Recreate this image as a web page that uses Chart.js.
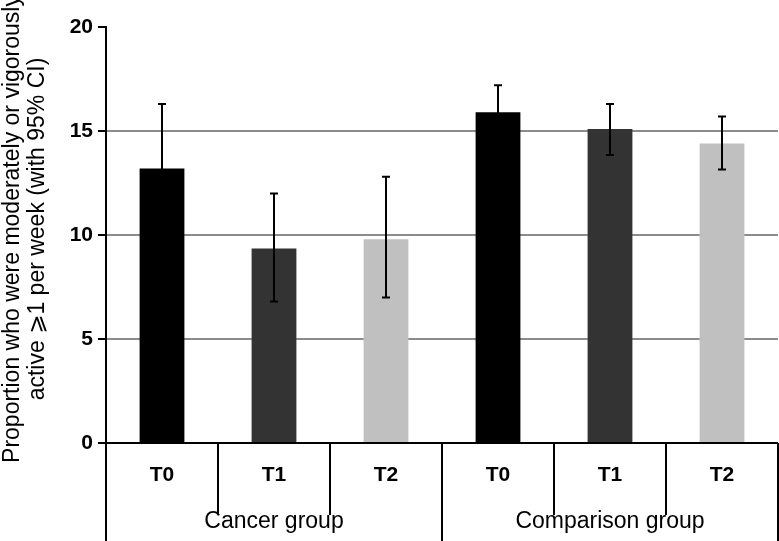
<!DOCTYPE html>
<html>
<head>
<meta charset="utf-8">
<script src="https://cdn.jsdelivr.net/npm/chart.js@4"></script>
<style>
  html, body { margin: 0; padding: 0; background: #fff; }
  #wrap { width: 779px; height: 541px; }
</style>
</head>
<body>
<div id="wrap"><canvas id="chart"></canvas></div>
<script>
const timeLabels = ["T0", "T1", "T2", "T0", "T1", "T2"];
const groupLabels = ["Cancer group", "Comparison group"];
const proportions = [13.2, 9.35, 9.8, 15.9, 15.1, 14.4];
const ciLow = [10.1, 6.8, 7.0, 14.6, 13.85, 13.15];
const ciHigh = [16.3, 12.0, 12.8, 17.2, 16.3, 15.7];
const barColors = ["#000000", "#333333", "#c0c0c0", "#000000", "#333333", "#c0c0c0"];
const yTitle = ["Proportion who were moderately or vigorously", "active \u2A7E1 per week (with 95% CI)"];

const FONT = "'Liberation Sans', Arial, Helvetica, 'DejaVu Sans', sans-serif";

const errorBars = {
  id: "errorBars",
  afterDatasetsDraw(chart) {
    const ctx = chart.ctx;
    const y = chart.scales.y;
    const meta = chart.getDatasetMeta(0);
    ctx.save();
    ctx.strokeStyle = "#000";
    ctx.lineWidth = 2;
    meta.data.forEach((bar, i) => {
      const top = y.getPixelForValue(ciHigh[i]);
      const bot = y.getPixelForValue(ciLow[i]);
      ctx.beginPath();
      ctx.moveTo(bar.x, top);
      ctx.lineTo(bar.x, bot);
      ctx.moveTo(bar.x - 4, top);
      ctx.lineTo(bar.x + 4, top);
      ctx.moveTo(bar.x - 4, bot);
      ctx.lineTo(bar.x + 4, bot);
      ctx.stroke();
    });
    ctx.restore();
  }
};

const groupAxis = {
  id: "groupAxis",
  afterDraw(chart) {
    const ctx = chart.ctx;
    const x = chart.scales.x;
    const area = chart.chartArea;
    const h = chart.height;
    const half = (x.getPixelForValue(1) - x.getPixelForValue(0)) / 2;
    ctx.save();
    ctx.strokeStyle = "#000";
    ctx.lineWidth = 2;
    ctx.beginPath();
    ctx.moveTo(area.left, area.top);
    ctx.lineTo(area.left, h);
    for (let i = 1; i <= timeLabels.length; i++) {
      const bx = x.getPixelForValue(i - 1) + half;
      const end = i % 3 === 0 ? h : area.bottom + 72;
      ctx.moveTo(bx, area.bottom);
      ctx.lineTo(bx, end);
    }
    ctx.stroke();

    ctx.fillStyle = "#000";
    ctx.textAlign = "center";
    ctx.textBaseline = "middle";
    ctx.font = "bold 21px " + FONT;
    timeLabels.forEach((t, i) => {
      ctx.fillText(t, x.getPixelForValue(i), area.bottom + 32);
    });
    ctx.font = "23px " + FONT;
    groupLabels.forEach((g, k) => {
      const cx = (x.getPixelForValue(k * 3) + x.getPixelForValue(k * 3 + 2)) / 2;
      ctx.fillText(g, cx, area.bottom + 79);
    });

    // y axis title, two rotated lines
    ctx.font = "23px " + FONT;
    ctx.translate(0, 229);
    ctx.rotate(-Math.PI / 2);
    ctx.fillText(yTitle[0], 0, 12.5);
    ctx.fillText(yTitle[1], 0, 37.5);
    ctx.restore();
  }
};

new Chart(document.getElementById("chart"), {
  type: "bar",
  data: {
    labels: timeLabels,
    datasets: [{
      data: proportions,
      backgroundColor: barColors,
      borderWidth: 0,
      barPercentage: 0.4,
      categoryPercentage: 1
    }]
  },
  options: {
    responsive: true,
    maintainAspectRatio: false,
    animation: false,
    layout: { padding: { top: 27, right: 1, bottom: 98, left: 0 } },
    plugins: { legend: { display: false }, tooltip: { enabled: false } },
    scales: {
      x: { display: false },
      y: {
        min: 0,
        max: 20,
        afterFit(scale) { scale.width = 106; },
        ticks: {
          stepSize: 5,
          padding: 5,
          color: "#000",
          font: { family: FONT, size: 21, weight: "bold" }
        },
        grid: {
          tickLength: 8,
          tickColor: "#000",
          lineWidth: 2,
          color: (c) => c.tick.value === 0 ? "#000" : (c.tick.value === 20 ? "rgba(0,0,0,0)" : "#8c8c8c")
        },
        border: { color: "#000", width: 2 }
      }
    }
  },
  plugins: [errorBars, groupAxis]
});
</script>
</body>
</html>
